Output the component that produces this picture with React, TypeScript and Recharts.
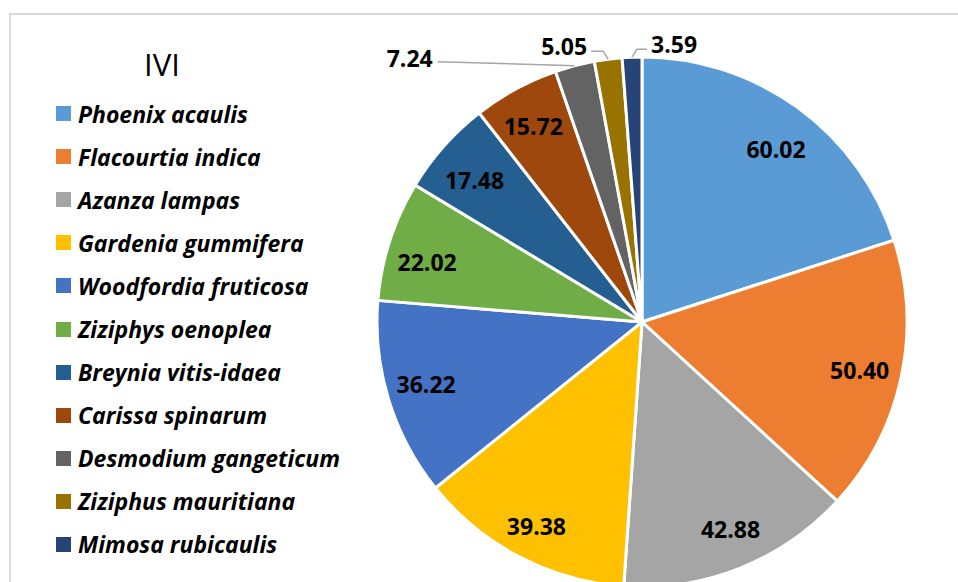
import React from 'react';
import { PieChart, Pie, Cell } from 'recharts';

const species = [
  'Phoenix acaulis',
  'Flacourtia indica',
  'Azanza lampas',
  'Gardenia gummifera',
  'Woodfordia fruticosa',
  'Ziziphys oenoplea',
  'Breynia vitis-idaea',
  'Carissa spinarum',
  'Desmodium gangeticum',
  'Ziziphus mauritiana',
  'Mimosa rubicaulis',
];

const iviValues = [60.02, 50.4, 42.88, 39.38, 36.22, 22.02, 17.48, 15.72, 7.24, 5.05, 3.59];

const colors = [
  '#5B9BD5', '#ED7D31', '#A5A5A5', '#FFC000', '#4472C4', '#70AD47',
  '#255E91', '#9E480E', '#636363', '#997300', '#264478',
];

const chartData = species.map((name, i) => ({ name, value: iviValues[i] }));

// small nudges for inside labels (Excel "best fit" placement)
const insideNudge: [number, number][] = [
  [0, 11], [-5, 0], [4, -5], [0, 2], [2, -5], [2, 10], [3, 9], [0, 4],
];

// leader-line layout for the small slices (offsets from the slice's outer edge)
const outsideLabels: Record<number, { pts: [number, number][]; tx: number; ty: number; anchor: 'start' | 'end' }> = {
  8: { pts: [[-137, -4]], tx: -142, ty: -8, anchor: 'end' },
  9: { pts: [[-5, -8], [-17, -8]], tx: -21, ty: -13, anchor: 'end' },
  10: { pts: [[5, -8], [15, -8]], tx: 19, ty: -13, anchor: 'start' },
};

const RAD = Math.PI / 180;
const FONT = '"Open Sans", sans-serif';

const renderLabel = (props: any) => {
  const { cx, cy, midAngle, outerRadius, index, value } = props;
  const text = Number(value).toFixed(2);
  const out = outsideLabels[index];
  if (out) {
    const ex = cx + outerRadius * Math.cos(-midAngle * RAD);
    const ey = cy + outerRadius * Math.sin(-midAngle * RAD);
    const points = [[ex, ey], ...out.pts.map(([dx, dy]) => [ex + dx, ey + dy])]
      .map(p => p.join(','))
      .join(' ');
    return (
      <g key={`lbl-${index}`}>
        <polyline points={points} fill="none" stroke="#A6A6A6" strokeWidth={1.5} />
        <text
          x={ex + out.tx}
          y={ey + out.ty}
          textAnchor={out.anchor}
          dominantBaseline="central"
          fontFamily={FONT}
          fontWeight={700}
          fontSize={23}
          fill="#000"
        >
          {text}
        </text>
      </g>
    );
  }
  const r = outerRadius * 0.86;
  const [nx, ny] = insideNudge[index] || [0, 0];
  const x = cx + r * Math.cos(-midAngle * RAD) + nx;
  const y = cy + r * Math.sin(-midAngle * RAD) + ny;
  return (
    <text
      key={`lbl-${index}`}
      x={x}
      y={y}
      textAnchor="middle"
      dominantBaseline="central"
      fontFamily={FONT}
      fontWeight={700}
      fontSize={23}
      fill="#000"
    >
      {text}
    </text>
  );
};

const App: React.FC = () => {
  return (
    <div style={{ position: 'absolute', left: 0, top: 0, width: 958, height: 582, overflow: 'hidden', background: '#fff' }}>
      <div
        style={{
          position: 'absolute',
          left: 9,
          top: 13,
          width: 1100,
          height: 1100,
          border: '2px solid #D9D9D9',
        }}
      />
      <div style={{ position: 'absolute', left: 0, top: 0 }}>
        <PieChart width={958} height={582} margin={{ top: 0, right: 0, bottom: 0, left: 0 }}>
          <Pie
            data={chartData}
            dataKey="value"
            nameKey="name"
            cx={642}
            cy={322}
            outerRadius={265}
            startAngle={90}
            endAngle={-270}
            stroke="#fff"
            strokeWidth={3}
            label={renderLabel}
            labelLine={false}
            isAnimationActive={false}
          >
            {chartData.map((d, i) => (
              <Cell key={d.name} fill={colors[i]} />
            ))}
          </Pie>
        </PieChart>
      </div>
      <div
        style={{
          position: 'absolute',
          left: 0,
          top: 43,
          width: 324,
          textAlign: 'center',
          fontFamily: FONT,
          fontSize: 31,
          lineHeight: '42px',
          color: '#000',
        }}
      >
        IVI
      </div>
      <div style={{ position: 'absolute', left: 56, top: 92, fontFamily: FONT }}>
        {species.map((name, i) => (
          <div key={name} style={{ display: 'flex', alignItems: 'center', height: 43.1 }}>
            <div style={{ width: 15, height: 15, background: colors[i], marginRight: 7 }} />
            <span style={{ fontSize: 23, fontWeight: 700, fontStyle: 'italic', color: '#000', whiteSpace: 'nowrap' }}>
              {name}
            </span>
          </div>
        ))}
      </div>
    </div>
  );
};

export default App;
